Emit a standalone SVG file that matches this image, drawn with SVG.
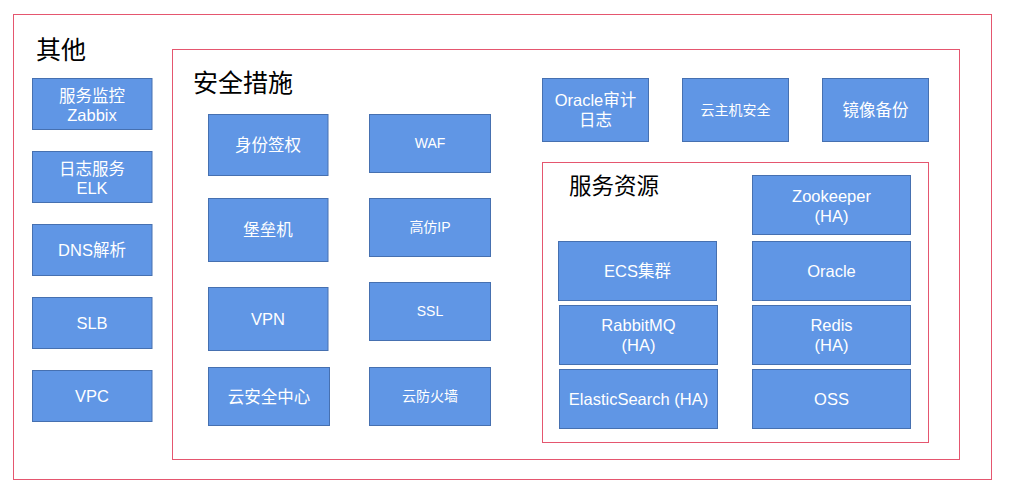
<svg xmlns="http://www.w3.org/2000/svg" width="1013" height="499" viewBox="0 0 1013 499">
<style>
.c{fill:none;stroke:#E5566F;stroke-width:1}
.n rect{fill:#6096E5;stroke:#4670B0;stroke-width:1}
.n text{fill:#FFFFFF;font-family:"Liberation Sans","Noto Sans CJK SC",sans-serif;font-size:16.5px;text-anchor:middle}
.n text.s{font-size:14px}
.t{fill:#000000;font-family:"Liberation Sans","Noto Sans CJK SC",sans-serif}
</style>
<rect width="1013" height="499" fill="#FFFFFF"/>
<g id="containers">
<rect class="c" x="13.5" y="14.5" width="978" height="465"/>
<rect class="c" x="172.5" y="49.5" width="787" height="410"/>
<rect class="c" x="542.5" y="162.5" width="386" height="280"/>
<text class="t" x="36" y="59" font-size="25">其他</text>
<text class="t" x="193" y="92" font-size="25">安全措施</text>
<text class="t" x="569" y="194" font-size="22.5">服务资源</text>
</g>
<g id="connectors"></g>
<g id="n-zabbix" class="n"><rect x="32.5" y="78.5" width="119.5" height="51"/><text x="92" y="101.5">服务监控</text><text x="92" y="121">Zabbix</text></g>
<g id="n-elk" class="n"><rect x="32.5" y="151.5" width="119.5" height="51"/><text x="92" y="174.5">日志服务</text><text x="92" y="194">ELK</text></g>
<g id="n-dns" class="n"><rect x="32.5" y="224.5" width="119.5" height="51"/><text x="92" y="256">DNS解析</text></g>
<g id="n-slb" class="n"><rect x="32.5" y="297.5" width="119.5" height="51"/><text x="92" y="329">SLB</text></g>
<g id="n-vpc" class="n"><rect x="32.5" y="370.5" width="119.5" height="51"/><text x="92" y="402">VPC</text></g>
<g id="n-auth" class="n"><rect x="208.5" y="114.5" width="119.5" height="61"/><text x="268" y="151">身份签权</text></g>
<g id="n-bastion" class="n"><rect x="208.5" y="198.5" width="119.5" height="63"/><text x="268" y="236">堡垒机</text></g>
<g id="n-vpn" class="n"><rect x="208.5" y="287.5" width="119.5" height="63"/><text x="268" y="325">VPN</text></g>
<g id="n-secc" class="n"><rect x="208.5" y="367.5" width="121" height="58"/><text x="269" y="402.5">云安全中心</text></g>
<g id="n-waf" class="n"><rect x="369.5" y="114.5" width="121" height="58"/><text class="s" x="430" y="148">WAF</text></g>
<g id="n-ddos" class="n"><rect x="369.5" y="198.5" width="121" height="58"/><text class="s" x="430" y="232">高仿IP</text></g>
<g id="n-ssl" class="n"><rect x="369.5" y="282.5" width="121" height="58"/><text class="s" x="430" y="316">SSL</text></g>
<g id="n-fw" class="n"><rect x="369.5" y="367.5" width="121" height="58"/><text class="s" x="430" y="401">云防火墙</text></g>
<g id="n-oraaudit" class="n"><rect x="542.5" y="78.5" width="106" height="63"/><text x="595.5" y="106">Oracle审计</text><text x="595.5" y="126">日志</text></g>
<g id="n-hostsec" class="n"><rect x="682.5" y="78.5" width="106" height="63"/><text class="s" x="735.5" y="115">云主机安全</text></g>
<g id="n-backup" class="n"><rect x="822.5" y="78.5" width="106" height="63"/><text x="875.5" y="116">镜像备份</text></g>
<g id="n-zk" class="n"><rect x="752.5" y="175.5" width="158" height="59"/><text x="831.5" y="201.5">Zookeeper</text><text x="831.5" y="221.5">(HA)</text></g>
<g id="n-ecs" class="n"><rect x="558.5" y="241.5" width="158" height="59"/><text x="637.5" y="277">ECS集群</text></g>
<g id="n-oracle" class="n"><rect x="752.5" y="241.5" width="158" height="59"/><text x="831.5" y="277">Oracle</text></g>
<g id="n-mq" class="n"><rect x="559.5" y="305.5" width="158" height="59"/><text x="638.5" y="330.5">RabbitMQ</text><text x="638.5" y="350.5">(HA)</text></g>
<g id="n-redis" class="n"><rect x="752.5" y="305.5" width="158" height="59"/><text x="831.5" y="330.5">Redis</text><text x="831.5" y="350.5">(HA)</text></g>
<g id="n-es" class="n"><rect x="559.5" y="369.5" width="158" height="59"/><text x="638.5" y="405">ElasticSearch (HA)</text></g>
<g id="n-oss" class="n"><rect x="752.5" y="369.5" width="158" height="59"/><text x="831.5" y="405">OSS</text></g>
</svg>
